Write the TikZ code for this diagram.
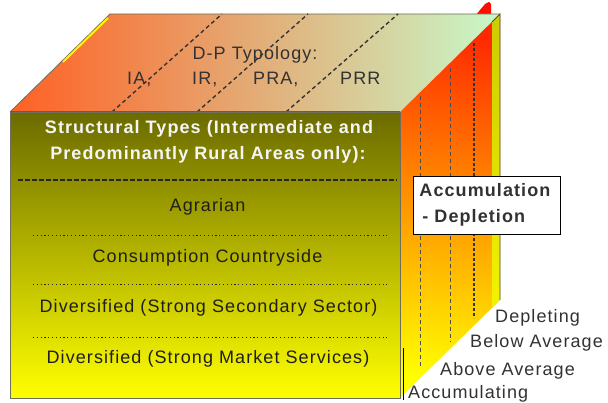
\documentclass[tikz,border=0pt]{standalone}
\usepackage{fontspec}
\setmainfont{Liberation Sans}[LetterSpace=6]
\definecolor{olivetop}{RGB}{107,107,0}
\definecolor{olivemid}{RGB}{196,196,0}
\definecolor{faceyel}{RGB}{255,255,0}
\definecolor{topleft}{RGB}{255,96,36}
\definecolor{topmid}{RGB}{236,188,140}
\definecolor{topright}{RGB}{200,248,200}
\definecolor{sidered}{RGB}{255,40,0}
\definecolor{sideorange}{RGB}{255,190,0}
\definecolor{stripcol}{RGB}{204,204,0}
\definecolor{edgecol}{RGB}{110,110,90}
\definecolor{txtdark}{RGB}{30,30,30}
\definecolor{txtgray}{RGB}{50,50,50}
\tikzset{
  txt/.style={font=\fontsize{18}{22}\selectfont, text=txtdark, inner sep=0pt},
  lbl/.style={txt, text=txtgray},
  hdr/.style={txt, font=\fontsize{18}{22}\selectfont\bfseries, text=white!96!black},
  topdash/.style={dash pattern=on 4pt off 3pt, line width=1.4pt, black!80},
  sepdash/.style={dash pattern=on 5pt off 2pt, line width=1.2pt, black!85},
  sepdot/.style={dash pattern=on 1.2pt off 2.6pt, line width=1pt, black!85},
  sidedash/.style={dash pattern=on 4pt off 3pt, line width=0.7pt, black!70},
}
\begin{document}
\begin{tikzpicture}[x=1pt,y=1pt]
\useasboundingbox (0,0) rectangle (608,402);
% red tip behind the box
\fill[red!90!orange] (475,386) -- (485,398) -- (489,400) -- (491,398) -- (491,386) -- cycle;
% top face
\shade[left color=topleft, middle color=topmid, right color=topright]
  (10,290) -- (110,388) -- (500,388) -- (400,290) -- cycle;
\draw[edgecol, line width=0.8pt] (10,290) -- (110,388) -- (500,388);
\draw[yellow, line width=2pt] (63,340) -- (108,384);
\foreach \a/\b in {112/222,197/308,286/398}
{
    \draw[topdash] (\a,290) -- (\b,388);
}
% side face
\shade[top color=sidered, middle color=sideorange, bottom color=faceyel, shading angle=-8]
  (400,290) -- (500,388) -- (500,102) -- (400,4) -- cycle;
\shade[top color=stripcol, bottom color=yellow!90!olive]
  (492,380) -- (500,388) -- (500,102) -- (492,94) -- cycle;
\draw[black!70, line width=0.8pt] (492,380) -- (500,388) -- (500,102);
\foreach \x/\ya/\yb in {420/306/34,450/334/60}
{
    \draw[sidedash] (\x,\ya) -- (\x,\yb);
}
\draw[sidedash, line width=2pt, dash pattern=on 3pt off 2pt, black!80] (474,359) -- (474,84);
% front face
\shadedraw[top color=olivetop, middle color=olivemid, bottom color=faceyel, draw=edgecol, line width=0.8pt]
  (10,4) rectangle (400,290);
\draw[sepdash] (18,222) -- (397,222);
\foreach \y in {166,117,65}
{
    \draw[sepdot] (33,\y) -- (387,\y);
}
\draw[black, line width=0.9pt] (403,54) -- (403,2);
% top labels
\node[lbl, anchor=base] (dptitle) at (255,342.7) {D-P Typology:};
\node[lbl, anchor=base west] (ia) at (127,317) {IA,};
\node[lbl, anchor=base west] (ir) at (192,317) {IR,};
\node[lbl, anchor=base west] (pra) at (253,317) {PRA,};
\node[lbl, anchor=base west] (prr) at (340,317) {PRR};
% front labels
\node[hdr, anchor=base] (sttitle) at (209,268) {Structural Types (Intermediate and};
\node[hdr, anchor=base] (sttitleb) at (208,242) {Predominantly Rural Areas only):};
\node[txt, anchor=base] (agr) at (207.5,190.3) {Agrarian};
\node[txt, anchor=base] (cons) at (207.5,139) {Consumption Countryside};
\node[txt, anchor=base] (divsec) at (208.5,89) {Diversified (Strong Secondary Sector)};
\node[txt, anchor=base] (divmkt) at (208,39) {Diversified (Strong Market Services)};
% side labels
\node[txt, font=\fontsize{18}{26}\selectfont\bfseries, text=txtgray, draw=black, line width=0.9pt,
  fill=white, anchor=north west, align=left, text width=135pt, inner xsep=6pt, inner ysep=7.5pt]
  (accbox) at (413,226) {Accumulation\\\hspace*{3pt}- Depletion};
\node[lbl, anchor=base west] (depl) at (495,80) {Depleting};
\node[lbl, anchor=base west] (below) at (470,55) {Below Average};
\node[lbl, anchor=base west] (above) at (440,27) {Above Average};
\node[lbl, anchor=base west] (accu) at (408,4) {Accumulating};
\end{tikzpicture}
\end{document}
